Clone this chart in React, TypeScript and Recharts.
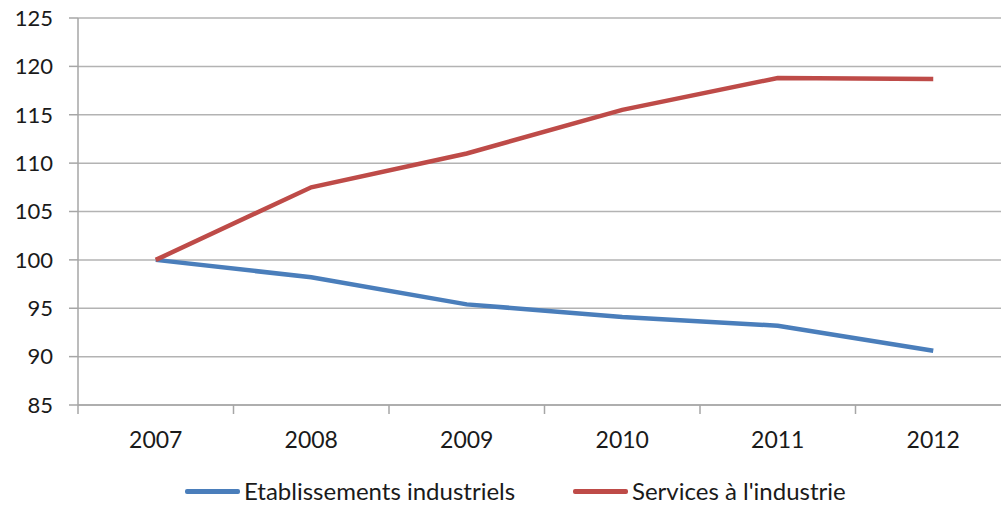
import { LineChart, Line, XAxis, YAxis, CartesianGrid } from 'recharts';

const years = ['2007', '2008', '2009', '2010', '2011', '2012'];
const etablissements = [100, 98.2, 95.4, 94.1, 93.2, 90.6];
const services = [100, 107.5, 111, 115.5, 118.8, 118.7];
const yTicks = [85, 90, 95, 100, 105, 110, 115, 120, 125];

const data = years.map((y, i) => ({ x: i, year: y, etab: etablissements[i], serv: services[i] }));
// label ticks at category centres, tick marks at category boundaries
const xTicks: number[] = [];
for (let i = 0; i <= years.length * 2; i++) xTicks.push(i / 2 - 0.5);

const FONT = 'Lato, "Open Sans", sans-serif';

function XTick({ x, y, payload }: any) {
  const v = payload.value as number;
  if (Number.isInteger(v)) {
    return (
      <text x={x} y={y + 43} textAnchor="middle" fontSize={23} fill="#1a1a1a" fontFamily={FONT}>
        {years[v]}
      </text>
    );
  }
  return <line x1={x} x2={x} y1={y} y2={y + 9} stroke="#a6a6a6" strokeWidth={1.5} />;
}

function LegendBox() {
  const item = (color: string, label: string, left: number) => (
    <div style={{ position: 'absolute', left, top: 0, height: 26, display: 'flex', alignItems: 'center', whiteSpace: 'nowrap' }}>
      <div style={{ width: 55, height: 5, borderRadius: 2, background: color, marginRight: 4 }} />
      <span>{label}</span>
    </div>
  );
  return (
    <div style={{ position: 'absolute', left: 0, top: 478, width: 1001, height: 26, fontFamily: FONT, fontSize: 24, color: '#1a1a1a', lineHeight: '26px' }}>
      {item('#4a7ebb', 'Etablissements industriels', 185)}
      {item('#be4b48', "Services à l'industrie", 573)}
    </div>
  );
}

export default function App() {
  return (
    <div style={{ position: 'fixed', left: 0, top: 0, width: 1001, height: 506, overflow: 'hidden', background: '#fff' }}>
      <LineChart width={1012} height={506} data={data} margin={{ top: 18, right: 1, left: 0, bottom: 41 }}>
        <CartesianGrid vertical={false} stroke="#b3b3b3" strokeWidth={1.5} />
        <XAxis
          dataKey="x"
          type="number"
          domain={[-0.5, 5.5]}
          ticks={xTicks}
          interval={0}
          tickLine={false}
          tickSize={0}
          tickMargin={0}
          height={60}
          axisLine={{ stroke: '#a6a6a6', strokeWidth: 1.5 }}
          tick={<XTick />}
        />
        <YAxis
          domain={[85, 125]}
          ticks={yTicks}
          interval={0}
          width={78}
          tickSize={9}
          tickMargin={16}
          axisLine={{ stroke: '#a6a6a6', strokeWidth: 1.5 }}
          tickLine={{ stroke: '#a6a6a6', strokeWidth: 1.5 }}
          tick={{ fontSize: 22, fill: '#1a1a1a', fontFamily: FONT }}
        />
        <Line dataKey="etab" stroke="#4a7ebb" strokeWidth={4.5} dot={false} isAnimationActive={false} />
        <Line dataKey="serv" stroke="#be4b48" strokeWidth={4.5} dot={false} isAnimationActive={false} />
      </LineChart>
      <LegendBox />
    </div>
  );
}
